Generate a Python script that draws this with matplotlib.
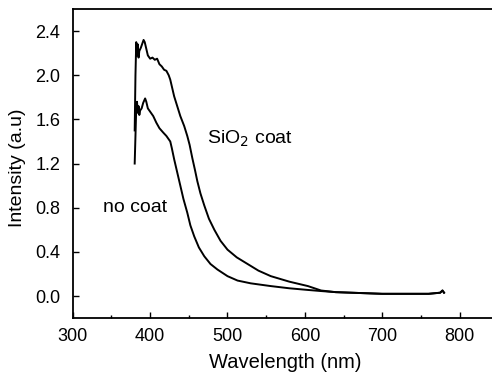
import matplotlib
matplotlib.use('Agg')
import matplotlib.pyplot as plt

plt.rcParams['font.family'] = ['Liberation Sans', 'DejaVu Sans']

# no coat spectrum
wl_nocoat = [380, 381, 382, 383, 384, 385, 386, 387, 389, 391, 393.5, 395, 397, 400,
             404, 408, 412, 417, 421, 426, 428, 431, 435, 439, 443, 448, 452, 457,
             463, 470, 478, 487, 500, 513, 530, 556, 580, 604, 621, 640, 660, 680,
             700, 720, 740, 760, 775, 778, 780]
int_nocoat = [1.20, 1.45, 1.70, 1.76, 1.66, 1.72, 1.64, 1.68, 1.70, 1.75, 1.79, 1.76, 1.70, 1.67,
              1.63, 1.57, 1.52, 1.48, 1.45, 1.40, 1.34, 1.24, 1.12, 1.00, 0.88, 0.755, 0.64, 0.54,
              0.44, 0.36, 0.29, 0.24, 0.18, 0.14, 0.115, 0.09, 0.07, 0.055, 0.045, 0.035, 0.03, 0.025,
              0.02, 0.02, 0.02, 0.02, 0.03, 0.05, 0.03]

# SiO2 coat spectrum
wl_sio2 = [380, 381, 382, 383, 384, 385, 386, 388, 390, 391.5, 393, 395, 397, 400,
           403, 406, 409, 412, 415, 418, 421, 424, 426, 428, 431, 435, 439, 444,
           448, 451, 454.5, 458, 461, 465, 470, 476, 483, 491, 500, 512, 526, 540,
           556, 580, 604, 621, 640, 660, 680, 700, 720, 740, 760, 775, 778, 780]
int_sio2 = [1.50, 2.00, 2.30, 2.18, 2.28, 2.16, 2.22, 2.25, 2.29, 2.32, 2.30, 2.24, 2.18, 2.15,
            2.16, 2.14, 2.15, 2.10, 2.08, 2.05, 2.04, 2.00, 1.96, 1.90, 1.81, 1.72, 1.63, 1.54,
            1.45, 1.37, 1.25, 1.14, 1.04, 0.93, 0.82, 0.70, 0.60, 0.50, 0.42, 0.35, 0.29, 0.23,
            0.18, 0.13, 0.09, 0.05, 0.035, 0.03, 0.025, 0.02, 0.02, 0.02, 0.02, 0.03, 0.05, 0.03]

xticks = [300, 400, 500, 600, 700, 800]
yticks = [0.0, 0.4, 0.8, 1.2, 1.6, 2.0, 2.4]

fig = plt.figure(figsize=(4.92, 3.76), dpi=100)
ax = fig.add_axes([0.148, 0.154, 0.852, 0.822])

ax.plot(wl_nocoat, int_nocoat, color='black', lw=1.4)
ax.plot(wl_sio2, int_sio2, color='black', lw=1.4)

ax.text(474, 1.42, 'SiO$_2$ coat', fontsize=14, va='center')
ax.text(339, 0.80, 'no coat', fontsize=14, va='center')

ax.set_xlim(300, 842)
ax.set_ylim(-0.2, 2.6)
ax.set_xticks(xticks)
ax.set_yticks(yticks)
ax.set_yticklabels([f"{v:.1f}" for v in yticks])
ax.set_xticks([350, 450, 550, 650, 750], minor=True)
ax.tick_params(direction='in', labelsize=13, length=4, width=1)
ax.tick_params(axis='y', pad=9)
ax.tick_params(axis='x', pad=7)
ax.tick_params(which='minor', direction='in', length=2.5, width=1)
ax.spines['right'].set_visible(False)
for s in ['left', 'bottom', 'top']:
    ax.spines[s].set_linewidth(1.3)

ax.set_xlabel('Wavelength (nm)', fontsize=14.5)
ax.set_ylabel('Intensity (a.u)', fontsize=14)
# label centres (pixels -> axes fraction)
ax.xaxis.set_label_coords((285 - 73) / 419, (318 - 362) / 309)
ax.yaxis.set_label_coords((17.5 - 73) / 419, (318 - 168) / 309)
ax.xaxis.label.set_va('center')
ax.yaxis.label.set_va('center')

fig.savefig('out.png', dpi=100, facecolor='white')
